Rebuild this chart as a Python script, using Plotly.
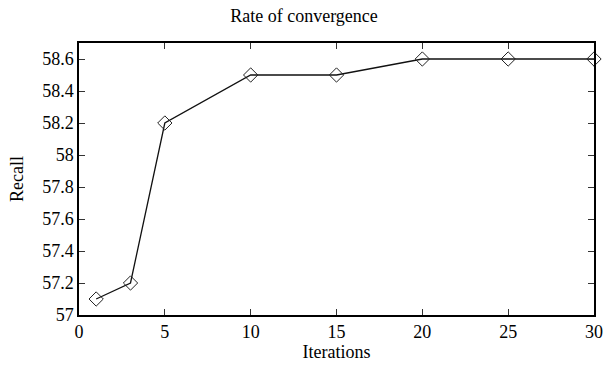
import plotly.graph_objects as go

iterations = [1, 3, 5, 10, 15, 20, 25, 30]
recall = [57.1, 57.2, 58.2, 58.5, 58.5, 58.6, 58.6, 58.6]
x_ticks = [0, 5, 10, 15, 20, 25, 30]
y_ticks = [57, 57.2, 57.4, 57.6, 57.8, 58, 58.2, 58.4, 58.6]
y_tick_labels = ["57", "57.2", "57.4", "57.6", "57.8", "58", "58.2", "58.4", "58.6"]

FONT = "Liberation Serif, serif"
FS = 18

fig = go.Figure()
fig.add_trace(go.Scatter(
    x=iterations, y=recall, mode="lines+markers",
    line=dict(color="#111111", width=1.3),
    marker=dict(symbol="diamond-open", size=11, color="#222222", line=dict(width=1)),
    cliponaxis=False, showlegend=False,
))

axis_common = dict(
    showline=True, linecolor="black", linewidth=1.5, mirror="ticks",
    ticks="inside", ticklen=6, tickwidth=1, tickcolor="#333333",
    showgrid=False, zeroline=False, automargin=False,
    tickfont=dict(family=FONT, size=FS, color="black"),
)

fig.update_layout(
    width=608, height=366,
    margin=dict(l=79, r=14, t=43, b=51, autoexpand=False),
    paper_bgcolor="white", plot_bgcolor="white",
    font=dict(family=FONT, size=FS, color="black"),
    title=dict(text="Rate of convergence", x=0.5, xanchor="center", y=1 - 16/366, yanchor="middle",
               font=dict(family=FONT, size=FS, color="black")),
    xaxis=dict(range=[0, 30], tickvals=x_ticks,
               title=dict(text="Iterations", font=dict(family=FONT, size=FS, color="black"), standoff=3),
               **axis_common),
    yaxis=dict(range=[57, 58.7], tickvals=y_ticks, ticktext=y_tick_labels,
               title=dict(text="Recall", font=dict(family=FONT, size=FS, color="black"), standoff=14),
               **axis_common),
)

fig.write_html("out.html", config={"displayModeBar": False},
               post_script="document.body.style.margin='0px';document.body.style.padding='0px';")
